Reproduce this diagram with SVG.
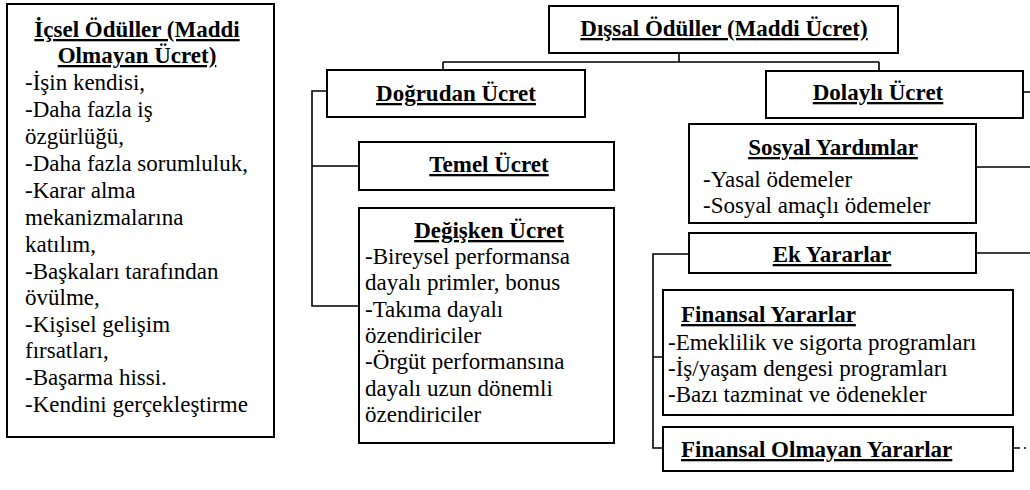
<svg xmlns="http://www.w3.org/2000/svg" width="1030" height="490" viewBox="0 0 1030 490">
<style>
.box{fill:#fff;stroke:#000;stroke-width:2}
.ln{fill:none;stroke:#000;stroke-width:1.6}
text{font-family:"Liberation Serif","Times New Roman",Times,Tinos,"Noto Serif",FreeSerif,"DejaVu Serif",serif;font-size:23px;fill:#000}
.t{font-weight:bold;text-decoration:underline}
.c{text-anchor:middle}
</style>
<rect width="1030" height="490" fill="#fff"/>
<g id="connectors">
<path class="ln" d="M679,53 V62 M443,62 H879 M443,62 V70 M879,62 V71"/>
<path class="ln" d="M327,91 H312 V306 H359 M312,166 H359"/>
<path class="ln" d="M1023,92 H1030 M976,167 H1030 M976,253 H1030"/>
<path class="ln" d="M689,254 H653 V448 H663 M653,357 H663"/>
<path class="ln" d="M1013,448 H1020 M1024,448 H1026"/>
</g>
<g id="icsel">
<rect class="box" x="7" y="4" width="267" height="433"/>
<text class="t c" x="137" y="37">İçsel Ödüller (Maddi</text>
<text class="t c" x="137" y="63">Olmayan Ücret)</text>
<text x="25" y="90">-İşin kendisi,</text>
<text x="25" y="117">-Daha fazla iş</text>
<text x="25" y="144">özgürlüğü,</text>
<text x="25" y="171">-Daha fazla sorumluluk,</text>
<text x="25" y="198">-Karar alma</text>
<text x="25" y="225">mekanizmalarına</text>
<text x="25" y="252">katılım,</text>
<text x="25" y="279">-Başkaları tarafından</text>
<text x="25" y="305">övülme,</text>
<text x="25" y="332">-Kişisel gelişim</text>
<text x="25" y="358">fırsatları,</text>
<text x="25" y="385">-Başarma hissi.</text>
<text x="25" y="412">-Kendini gerçekleştirme</text>
</g>
<g id="dissal">
<rect class="box" x="549" y="6" width="349" height="47"/>
<text class="t c" x="724" y="36">Dışsal Ödüller (Maddi Ücret)</text>
</g>
<g id="dogrudan">
<rect class="box" x="327" y="70" width="258" height="47"/>
<text class="t c" x="456" y="101">Doğrudan Ücret</text>
</g>
<g id="temel">
<rect class="box" x="359" y="142" width="255" height="48"/>
<text class="t c" x="489" y="172">Temel Ücret</text>
</g>
<g id="degisken">
<rect class="box" x="359" y="208" width="255" height="235"/>
<text class="t c" x="489" y="238">Değişken Ücret</text>
<text x="365" y="264">-Bireysel performansa</text>
<text x="365" y="290">dayalı primler, bonus</text>
<text x="365" y="317">-Takıma dayalı</text>
<text x="365" y="343">özendiriciler</text>
<text x="365" y="369">-Örgüt performansına</text>
<text x="365" y="396">dayalı uzun dönemli</text>
<text x="365" y="422">özendiriciler</text>
</g>
<g id="dolayli">
<rect class="box" x="766" y="71" width="257" height="47"/>
<text class="t c" x="878" y="100">Dolaylı Ücret</text>
</g>
<g id="sosyal">
<rect class="box" x="689" y="124" width="287" height="99"/>
<text class="t c" x="833" y="155">Sosyal Yardımlar</text>
<text x="703" y="187">-Yasal ödemeler</text>
<text x="703" y="213">-Sosyal amaçlı ödemeler</text>
</g>
<g id="ek">
<rect class="box" x="689" y="233" width="287" height="40"/>
<text class="t c" x="832" y="262">Ek Yararlar</text>
</g>
<g id="finansal">
<rect class="box" x="663" y="290" width="350" height="125"/>
<text class="t" x="681" y="322">Finansal Yararlar</text>
<text x="668" y="350">-Emeklilik ve sigorta programları</text>
<text x="668" y="376">-İş/yaşam dengesi programları</text>
<text x="668" y="402">-Bazı tazminat ve ödenekler</text>
</g>
<g id="finansal-olmayan">
<rect class="box" x="663" y="427" width="350" height="44"/>
<text class="t" x="681" y="457">Finansal Olmayan Yararlar</text>
</g>
</svg>
